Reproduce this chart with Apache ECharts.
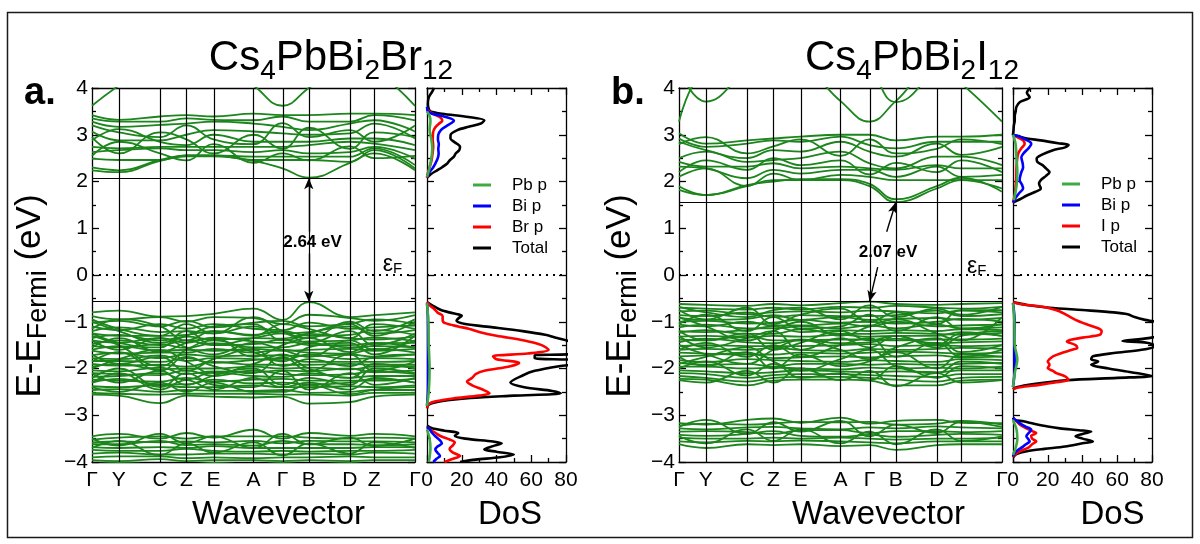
<!DOCTYPE html>
<html><head><meta charset="utf-8">
<script src="https://cdn.jsdelivr.net/npm/echarts@6/dist/echarts.min.js"></script>
<style>html,body{margin:0;padding:0;background:#fff}#c{width:1200px;height:544px}</style>
</head><body><div id="c"></div>
<script>
// ---------- k-path (high-symmetry points) ----------
const kPath = [0, 0.268, 0.68, 0.943, 1.215, 1.615, 1.905, 2.168, 2.578, 2.822, 3.23];
const kLabels = ['Γ','Y','C','Z','E','A','Γ','B','D','Z','Γ'];
const dosLegendA = ['Pb p','Bi p','Br p','Total'];
const dosLegendB = ['Pb p','Bi p','I p','Total'];

// band edges (eV) and gap labels
const cbmA = 2.07, vbmA = -0.57, gapA = '2.64 eV';
const cbmB = 1.555, vbmB = -0.57, gapB = '2.07 eV';

// ---------- Panel a: Cs4PbBi2Br12 bands (values at Γ Y C Z E A Γ B D Z Γ) ----------
const bandsA_up = [
  [3.62, 4.05, 4.6, 4.6, 4.6, 4.05, 3.62, 4.0, 4.6, 4.4, 3.62]
];
const bandsA_cb = [
  [3.42, 3.32, 3.39, 3.42, 3.39, 3.45, 3.42, 3.42, 3.45, 3.45, 3.42],
  [3.35, 3.28, 3.28, 3.35, 3.32, 3.31, 3.39, 3.28, 3.28, 3.42, 3.31],
  [3.28, 3.17, 3.21, 3.24, 3.28, 3.24, 3.17, 3.10, 3.24, 3.31, 3.07],
  [3.07, 2.88, 2.88, 3.00, 3.10, 3.07, 3.03, 3.00, 3.03, 3.24, 2.92],
  [2.88, 3.12, 2.85, 2.78, 3.00, 2.85, 2.85, 2.85, 2.92, 2.92, 2.78],
  [2.74, 2.71, 2.74, 2.74, 2.74, 2.74, 2.74, 2.78, 2.85, 2.81, 2.67],
  [2.63, 2.67, 2.71, 2.67, 2.67, 2.63, 2.67, 2.60, 2.63, 2.74, 2.49],
  [2.49, 2.46, 2.46, 2.56, 2.56, 2.53, 2.53, 2.53, 2.53, 2.71, 2.35],
  [2.30, 2.24, 2.46, 2.56, 2.56, 2.46, 2.46, 2.46, 2.42, 2.67, 2.28],
  [2.24, 2.20, 2.44, 2.54, 2.54, 2.44, 2.28, 2.08, 2.40, 2.60, 2.24],
  [3.20, 3.05, 2.95, 3.20, 2.90, 2.80, 3.25, 2.95, 3.10, 2.85, 3.20],
  [2.95, 2.60, 3.05, 2.90, 2.60, 3.00, 2.70, 3.15, 2.70, 3.05, 2.95],
  [2.55, 2.85, 2.60, 2.45, 2.80, 2.40, 2.60, 2.45, 2.75, 2.50, 2.55]
];
const bandsA_vb = [
  [-0.80,-0.76,-0.89,-0.88,-0.83,-0.72,-0.96,-0.58,-0.90,-0.86,-0.80],
  [-0.88,-0.95,-0.90,-1.00,-0.90,-0.92,-1.05,-0.85,-0.92,-0.98,-0.86],
  [-1.02,-0.98,-1.10,-0.98,-1.12,-1.02,-0.98,-1.10,-1.04,-0.95,-1.05],
  [-1.10,-1.18,-1.05,-1.15,-1.05,-1.15,-1.18,-1.02,-1.15,-1.12,-1.08],
  [-1.20,-1.12,-1.22,-1.20,-1.25,-1.10,-1.25,-1.22,-1.10,-1.25,-1.18],
  [-1.25,-1.30,-1.30,-1.28,-1.20,-1.28,-1.20,-1.30,-1.28,-1.18,-1.28],
  [-1.35,-1.28,-1.40,-1.32,-1.38,-1.35,-1.36,-1.26,-1.35,-1.38,-1.32],
  [-1.40,-1.45,-1.35,-1.45,-1.34,-1.42,-1.45,-1.42,-1.40,-1.34,-1.42],
  [-1.48,-1.40,-1.50,-1.40,-1.50,-1.48,-1.38,-1.50,-1.50,-1.46,-1.45],
  [-1.52,-1.55,-1.48,-1.56,-1.46,-1.55,-1.55,-1.46,-1.55,-1.52,-1.55],
  [-1.60,-1.52,-1.62,-1.60,-1.62,-1.58,-1.62,-1.60,-1.58,-1.62,-1.58],
  [-1.62,-1.68,-1.66,-1.66,-1.58,-1.66,-1.60,-1.66,-1.68,-1.58,-1.66],
  [-1.72,-1.66,-1.78,-1.70,-1.74,-1.72,-1.72,-1.74,-1.70,-1.75,-1.70],
  [-1.78,-1.80,-1.72,-1.84,-1.78,-1.80,-1.82,-1.70,-1.80,-1.78,-1.80],
  [-1.84,-1.84,-1.86,-1.78,-1.88,-1.82,-1.78,-1.86,-1.86,-1.86,-1.84],
  [-1.90,-1.94,-1.92,-1.96,-1.86,-1.92,-1.92,-1.92,-1.90,-1.92,-1.92],
  [-1.96,-1.90,-2.02,-2.00,-2.00,-1.96,-2.00,-1.98,-2.02,-1.96,-1.96],
  [-2.04,-2.06,-1.98,-2.12,-2.06,-2.08,-2.04,-2.06,-2.00,-2.08,-2.04],
  [-2.10,-2.12,-2.14,-2.04,-2.16,-2.04,-2.12,-2.14,-2.12,-2.06,-2.12],
  [-2.18,-2.16,-2.10,-2.24,-2.08,-2.16,-2.18,-2.10,-2.20,-2.16,-2.16],
  [-2.24,-2.26,-2.28,-2.20,-2.28,-2.24,-2.22,-2.26,-2.26,-2.26,-2.22],
  [-2.30,-2.22,-2.34,-2.34,-2.24,-2.32,-2.30,-2.34,-2.30,-2.22,-2.30],
  [-2.38,-2.40,-2.36,-2.40,-2.40,-2.36,-2.40,-2.40,-2.38,-2.40,-2.36],
  [-2.46,-2.44,-2.50,-2.46,-2.48,-2.48,-2.46,-2.52,-2.50,-2.46,-2.46],
  [-2.52,-2.54,-2.56,-2.54,-2.54,-2.54,-2.56,-2.56,-2.58,-2.52,-2.52],
  [-2.56,-2.58,-2.74,-2.58,-2.60,-2.62,-2.60,-2.75,-2.72,-2.60,-2.56],
  [-1.00,-1.20,-1.45,-1.30,-1.10,-1.05,-1.40,-1.25,-1.05,-1.30,-1.00],
  [-2.00,-1.80,-1.60,-1.85,-2.10,-1.90,-1.70,-2.00,-2.20,-1.90,-2.00],
  [-1.30,-1.50,-1.95,-1.60,-1.40,-1.65,-1.85,-1.55,-1.45,-1.70,-1.30],
  [-2.30,-2.10,-2.45,-2.25,-2.45,-2.20,-2.40,-2.30,-2.45,-2.20,-2.30],
  [-0.95,-1.15,-1.30,-1.05,-1.25,-0.90,-1.20,-1.35,-1.00,-1.20,-0.95],
  [-1.15,-0.95,-1.10,-1.40,-1.20,-1.30,-1.05,-1.15,-1.35,-1.05,-1.15],
  [-1.40,-1.60,-1.35,-1.55,-1.70,-1.45,-1.60,-1.75,-1.40,-1.60,-1.40],
  [-1.55,-1.35,-1.65,-1.45,-1.35,-1.75,-1.50,-1.35,-1.65,-1.45,-1.55],
  [-1.70,-1.90,-1.75,-2.05,-1.80,-1.60,-1.95,-1.80,-1.95,-1.75,-1.70],
  [-1.85,-1.65,-2.05,-1.75,-1.95,-2.10,-1.75,-2.05,-1.70,-2.05,-1.85],
  [-2.10,-2.30,-2.05,-2.35,-2.15,-2.00,-2.35,-2.20,-2.35,-2.00,-2.10],
  [-2.20,-2.00,-2.40,-2.10,-2.35,-2.40,-2.05,-2.45,-2.10,-2.35,-2.20],
  [-2.40,-2.50,-2.30,-2.50,-2.30,-2.50,-2.50,-2.35,-2.55,-2.45,-2.40],
  [-1.25,-1.45,-1.55,-1.20,-1.50,-1.35,-1.25,-1.45,-1.20,-1.50,-1.25]
];
const bandsA_low = [
  [-3.45,-3.40,-3.50,-3.38,-3.48,-3.31,-3.50,-3.38,-3.44,-3.40,-3.45],
  [-3.52,-3.48,-3.45,-3.50,-3.45,-3.45,-3.45,-3.48,-3.50,-3.48,-3.50],
  [-3.58,-3.56,-3.58,-3.56,-3.58,-3.55,-3.60,-3.55,-3.56,-3.56,-3.58],
  [-3.62,-3.62,-3.55,-3.64,-3.62,-3.65,-3.55,-3.62,-3.62,-3.64,-3.62],
  [-3.68,-3.70,-3.68,-3.70,-3.66,-3.70,-3.70,-3.70,-3.70,-3.68,-3.68],
  [-3.74,-3.76,-3.76,-3.72,-3.76,-3.78,-3.76,-3.78,-3.76,-3.76,-3.74],
  [-3.82,-3.80,-3.84,-3.84,-3.82,-3.82,-3.84,-3.82,-3.84,-3.80,-3.82],
  [-3.90,-3.88,-3.88,-3.92,-3.90,-3.92,-3.90,-3.90,-3.88,-3.90,-3.90],
  [-3.96,-3.98,-3.94,-3.98,-3.96,-3.96,-3.98,-3.96,-3.98,-3.96,-3.96],
  [-4.05,-4.02,-4.05,-4.05,-4.02,-4.05,-4.02,-4.05,-4.02,-4.05,-4.05],
  [-3.50,-3.65,-3.40,-3.60,-3.45,-3.70,-3.40,-3.62,-3.48,-3.66,-3.50],
  [-3.70,-3.55,-3.85,-3.60,-3.80,-3.58,-3.86,-3.60,-3.82,-3.58,-3.70]
];

// ---------- Panel b: Cs4PbBi2I12 bands ----------
const bandsB_up = [
  [3.28, 4.4, 4.6, 4.6, 4.5, 3.72, 3.28, 3.72, 4.5, 4.1, 3.28],
  [4.4, 3.71, 4.4, 4.8, 4.8, 4.8, 4.8, 4.8, 4.8, 4.8, 4.8],
  [4.8, 4.8, 4.8, 4.8, 4.8, 4.8, 4.4, 3.7, 4.4, 4.8, 4.8]
];
const bandsB_cb = [
  [3.03, 2.81, 2.88, 2.92, 2.96, 3.00, 3.00, 2.88, 2.96, 2.96, 3.00],
  [2.92, 2.74, 2.81, 2.88, 2.85, 2.96, 2.78, 2.71, 2.85, 2.85, 2.85],
  [2.85, 2.67, 2.50, 2.67, 2.64, 2.85, 2.64, 2.53, 2.81, 2.57, 2.74],
  [2.50, 2.64, 2.42, 2.46, 2.50, 2.64, 2.39, 2.28, 2.53, 2.53, 2.35],
  [2.42, 2.32, 2.32, 2.39, 2.28, 2.32, 2.28, 2.25, 2.35, 2.28, 2.28],
  [2.32, 2.28, 2.07, 2.25, 2.17, 2.25, 2.25, 2.10, 2.32, 2.10, 2.14],
  [2.10, 2.28, 1.90, 2.17, 2.03, 2.14, 2.10, 2.03, 2.03, 2.03, 2.03],
  [1.90, 1.71, 1.90, 2.03, 2.03, 2.03, 1.90, 1.56, 1.85, 2.03, 1.85],
  [1.82, 1.71, 1.92, 2.00, 2.05, 2.05, 1.95, 1.62, 1.90, 2.08, 1.78],
  [2.80, 2.95, 2.60, 2.75, 2.90, 2.55, 2.90, 2.60, 2.70, 2.90, 2.80],
  [2.20, 2.45, 2.25, 2.50, 2.35, 2.45, 2.15, 2.40, 2.20, 2.45, 2.20]
];
const bandsB_vb = [
  [-0.62,-0.64,-0.66,-0.62,-0.65,-0.60,-0.57,-0.62,-0.64,-0.62,-0.60],
  [-0.70,-0.72,-0.74,-0.70,-0.74,-0.68,-0.70,-0.66,-0.70,-0.72,-0.68],
  [-0.78,-0.76,-0.84,-0.80,-0.78,-0.80,-0.76,-0.78,-0.82,-0.76,-0.80],
  [-0.86,-0.88,-0.80,-0.90,-0.86,-0.88,-0.88,-0.86,-0.76,-0.88,-0.84],
  [-0.92,-0.96,-0.94,-0.86,-0.96,-0.90,-0.96,-0.94,-0.92,-0.96,-0.92],
  [-1.00,-0.98,-1.04,-1.02,-0.96,-1.02,-1.00,-1.04,-1.00,-0.94,-1.00],
  [-1.06,-1.10,-1.00,-1.08,-1.08,-1.04,-1.10,-1.00,-1.10,-1.08,-1.06],
  [-1.12,-1.06,-1.14,-1.14,-1.10,-1.14,-1.08,-1.14,-1.06,-1.14,-1.12],
  [-1.20,-1.22,-1.18,-1.10,-1.22,-1.18,-1.20,-1.18,-1.20,-1.16,-1.18],
  [-1.24,-1.18,-1.26,-1.26,-1.16,-1.26,-1.26,-1.24,-1.26,-1.28,-1.24],
  [-1.32,-1.30,-1.34,-1.30,-1.32,-1.28,-1.32,-1.30,-1.30,-1.22,-1.30],
  [-1.38,-1.40,-1.30,-1.40,-1.40,-1.38,-1.38,-1.40,-1.38,-1.38,-1.36],
  [-1.44,-1.36,-1.44,-1.46,-1.38,-1.46,-1.44,-1.36,-1.46,-1.44,-1.42],
  [-1.52,-1.50,-1.52,-1.52,-1.52,-1.50,-1.48,-1.52,-1.50,-1.52,-1.50],
  [-1.60,-1.58,-1.60,-1.56,-1.60,-1.62,-1.58,-1.60,-1.58,-1.56,-1.58],
  [-1.66,-1.68,-1.70,-1.70,-1.66,-1.68,-1.66,-1.64,-1.66,-1.68,-1.66],
  [-1.74,-1.72,-1.66,-1.78,-1.76,-1.74,-1.76,-1.74,-1.72,-1.76,-1.74],
  [-1.82,-1.86,-1.80,-1.82,-1.84,-1.86,-1.82,-1.84,-1.86,-1.80,-1.82],
  [-1.88,-1.92,-1.90,-1.96,-1.90,-1.90,-1.92,-1.90,-1.92,-1.90,-1.88],
  [-1.96,-1.96,-2.00,-1.98,-2.00,-2.02,-1.98,-2.00,-1.98,-2.00,-1.96],
  [-2.04,-2.06,-2.10,-2.08,-2.04,-2.06,-2.08,-2.06,-2.08,-2.04,-2.04],
  [-2.10,-2.12,-2.20,-2.14,-2.12,-2.12,-2.14,-2.16,-2.18,-2.12,-2.12],
  [-2.16,-2.20,-2.28,-2.20,-2.18,-2.18,-2.20,-2.24,-2.28,-2.20,-2.18],
  [-2.22,-2.24,-2.36,-2.26,-2.24,-2.24,-2.26,-2.36,-2.36,-2.26,-2.24],
  [-0.90,-1.10,-1.40,-1.20,-1.00,-1.30,-1.10,-0.95,-1.25,-1.40,-0.90],
  [-1.50,-1.70,-1.90,-1.60,-1.40,-1.60,-1.80,-1.55,-1.35,-1.65,-1.50],
  [-1.90,-1.75,-1.55,-1.85,-2.05,-1.80,-1.60,-1.95,-2.10,-1.85,-1.90],
  [-1.20,-1.40,-1.25,-1.60,-1.45,-1.20,-1.40,-1.30,-1.55,-1.30,-1.20],
  [-0.75,-0.95,-0.70,-1.05,-0.85,-0.72,-1.00,-0.80,-1.05,-0.75,-0.75],
  [-1.05,-0.85,-1.20,-0.90,-1.15,-1.10,-0.85,-1.20,-0.90,-1.15,-1.05],
  [-1.30,-1.55,-1.35,-1.20,-1.60,-1.35,-1.55,-1.30,-1.50,-1.25,-1.30],
  [-1.60,-1.45,-1.75,-1.50,-1.75,-1.50,-1.35,-1.75,-1.45,-1.75,-1.60],
  [-1.75,-1.95,-1.65,-2.00,-1.70,-1.95,-1.85,-1.65,-2.00,-1.70,-1.75],
  [-2.00,-1.85,-2.15,-1.90,-2.20,-2.10,-2.25,-1.95,-2.20,-1.95,-2.00],
  [-2.25,-2.30,-2.05,-2.30,-2.00,-2.25,-2.05,-2.38,-2.10,-2.30,-2.25],
  [-0.68,-0.80,-0.90,-0.75,-0.70,-0.95,-0.65,-0.90,-0.72,-0.85,-0.68]
];
const bandsB_low = [
  [-3.17,-3.20,-3.10,-3.07,-3.16,-3.05,-3.18,-3.12,-3.10,-3.16,-3.17],
  [-3.22,-3.18,-3.20,-3.18,-3.14,-3.15,-3.14,-3.20,-3.18,-3.12,-3.20],
  [-3.28,-3.30,-3.26,-3.25,-3.28,-3.30,-3.26,-3.28,-3.24,-3.26,-3.28],
  [-3.35,-3.34,-3.36,-3.40,-3.32,-3.32,-3.38,-3.34,-3.34,-3.36,-3.34],
  [-3.42,-3.44,-3.40,-3.34,-3.44,-3.46,-3.42,-3.46,-3.42,-3.40,-3.42],
  [-3.48,-3.50,-3.50,-3.48,-3.50,-3.48,-3.50,-3.52,-3.50,-3.50,-3.48],
  [-3.56,-3.58,-3.55,-3.56,-3.54,-3.56,-3.58,-3.60,-3.56,-3.56,-3.56],
  [-3.62,-3.70,-3.62,-3.64,-3.62,-3.66,-3.64,-3.74,-3.64,-3.62,-3.62],
  [-3.25,-3.10,-3.40,-3.15,-3.35,-3.12,-3.45,-3.20,-3.38,-3.14,-3.25],
  [-3.45,-3.60,-3.30,-3.55,-3.30,-3.60,-3.35,-3.62,-3.30,-3.55,-3.45]
];

// ---------- DoS, [energy (eV), DoS] pairs; null = gap ----------
const dosA_total = [
  [4.0,4],[3.92,3],[3.8,1],[3.65,0.5],[3.55,1],[3.5,2],[3.45,8.6],[3.38,24],[3.31,33],[3.24,31],[3.17,24],[3.1,17.5],[3.0,13.6],[2.92,13.5],[2.85,15.5],[2.74,19],[2.67,18.5],[2.6,16.5],[2.53,15.5],[2.45,13],[2.38,11.5],[2.3,8.5],[2.24,5.8],[2.15,2],[2.08,0],
  null,
  [-0.58,0],[-0.65,3],[-0.75,8],[-0.82,15],[-0.87,20],[-0.93,18],[-0.98,17],[-1.05,22],[-1.12,38],[-1.2,55],[-1.28,68],[-1.35,75],[-1.42,82],[-1.55,92],[-1.68,88],[-1.72,62],[-1.78,62],[-1.82,88],[-1.88,90],[-1.95,76],[-2.05,62],[-2.15,55],[-2.3,48],[-2.4,56],[-2.48,72],[-2.53,77],[-2.58,50],[-2.63,25],[-2.7,8],[-2.77,1],[-2.85,0],
  null,
  [-3.22,0],[-3.28,3],[-3.33,10],[-3.38,18],[-3.44,16],[-3.5,22],[-3.56,38],[-3.6,43],[-3.66,38],[-3.73,33],[-3.78,40],[-3.84,50],[-3.9,42],[-3.95,28],[-4.0,19]
];
const dosA_Br = [
  [3.55,0],[3.48,2],[3.42,5],[3.36,8],[3.3,8.8],[3.24,7],[3.15,4.6],[3.05,3.5],[2.9,3.3],[2.75,3.6],[2.6,3.2],[2.45,2.6],[2.3,1.5],[2.15,0.3],[2.08,0],
  null,
  [-0.58,0],[-0.65,1.5],[-0.72,4],[-0.8,6],[-0.88,9],[-0.96,9],[-1.03,10.5],[-1.1,18],[-1.15,24],[-1.22,30],[-1.3,40],[-1.4,56],[-1.5,66],[-1.6,70],[-1.68,58],[-1.74,38],[-1.8,40],[-1.88,53],[-1.95,48],[-2.05,33],[-2.12,28],[-2.2,26],[-2.28,23],[-2.36,26],[-2.45,32],[-2.53,36],[-2.58,30],[-2.64,15],[-2.7,5],[-2.76,1],[-2.85,0],
  null,
  [-3.25,0],[-3.31,2],[-3.38,5],[-3.45,8],[-3.52,13],[-3.58,16],[-3.64,15],[-3.72,13],[-3.8,15],[-3.87,19],[-3.93,15],[-4.0,10]
];
const dosA_Bi = [
  [3.6,0],[3.5,0.5],[3.45,3],[3.4,9],[3.35,13.5],[3.3,15.5],[3.25,14],[3.18,11],[3.1,8],[3.0,6.5],[2.9,6.3],[2.8,6.8],[2.7,6.5],[2.6,6.7],[2.5,6.2],[2.4,5],[2.3,3.5],[2.2,1.5],[2.1,0],
  null,
  [-0.6,0],[-0.9,0.5],[-1.5,0.6],[-2.0,0.6],[-2.5,0.5],[-2.8,0],
  null,
  [-3.25,0],[-3.3,1.5],[-3.38,3],[-3.45,4.8],[-3.52,7],[-3.6,8.6],[-3.67,6],[-3.73,4.8],[-3.8,6],[-3.87,7.5],[-3.93,5.5],[-4.0,3.6]
];
const dosA_Pb = [
  [3.5,0],[3.4,1.5],[3.3,2],[3.1,1.5],[2.9,2.5],[2.7,3],[2.5,2.5],[2.3,1.5],[2.1,0],
  null,
  [-0.6,0],[-1.0,0.8],[-1.5,1],[-2.0,1.5],[-2.5,1],[-2.8,0],
  null,
  [-3.3,0],[-3.5,1.5],[-3.7,2],[-3.9,1.5],[-4.0,1]
];

const dosB_total = [
  [4.0,10],[3.9,8],[3.8,9.6],[3.7,4],[3.6,2],[3.5,1.5],[3.4,1],[3.3,1],[3.2,0.5],[3.1,0.3],[3.0,0],[2.97,3],[2.92,8],[2.88,16],[2.82,26],[2.78,32],[2.73,30],[2.67,23],[2.58,17],[2.49,13.6],[2.42,14],[2.35,17],[2.28,19],[2.2,21],[2.12,19],[2.03,16],[1.95,15],[1.85,16],[1.78,13],[1.7,8],[1.62,4],[1.55,0],
  null,
  [-0.58,0],[-0.64,8],[-0.7,21],[-0.75,40],[-0.8,58],[-0.84,66],[-0.9,70],[-0.96,76],[-1.0,82],[-1.1,90],[-1.25,88],[-1.35,78],[-1.41,63],[-1.45,77],[-1.52,82],[-1.6,74],[-1.67,58],[-1.74,46],[-1.8,45],[-1.85,49],[-1.92,45],[-2.0,55],[-2.08,68],[-2.16,80],[-2.2,60],[-2.25,31],[-2.33,12],[-2.4,2],[-2.45,0],
  null,
  [-3.05,0],[-3.1,1],[-3.13,6],[-3.18,12],[-3.24,20],[-3.28,27],[-3.32,38],[-3.35,45],[-3.4,40],[-3.45,36],[-3.5,40],[-3.56,46],[-3.6,40],[-3.67,30],[-3.72,18],[-3.77,8],[-3.83,2],[-3.9,0]
];
const dosB_I = [
  [3.0,0],[2.95,2.5],[2.88,5.8],[2.8,6.7],[2.72,5],[2.6,3],[2.45,2.3],[2.3,2],[2.1,1.9],[1.9,1.5],[1.7,1],[1.55,0],
  null,
  [-0.58,0],[-0.62,4],[-0.67,15],[-0.72,22],[-0.78,27],[-0.86,31],[-0.96,36],[-1.05,42],[-1.14,49],[-1.2,51],[-1.28,50],[-1.34,40],[-1.42,31],[-1.5,36],[-1.56,37],[-1.6,34],[-1.67,28],[-1.74,23],[-1.8,21],[-1.85,20],[-1.92,21],[-1.99,20],[-2.05,23],[-2.1,25],[-2.17,30],[-2.24,32],[-2.3,24],[-2.35,15],[-2.4,4],[-2.44,0],
  null,
  [-3.08,0],[-3.13,2],[-3.2,4],[-3.28,7.7],[-3.34,11],[-3.38,13.4],[-3.44,10.5],[-3.5,11],[-3.56,13.4],[-3.62,11],[-3.7,8.6],[-3.77,4],[-3.84,1],[-3.9,0]
];
const dosB_Bi = [
  [3.0,0],[2.96,3.8],[2.9,7],[2.84,10],[2.8,10.5],[2.74,9.5],[2.7,8.6],[2.6,6],[2.52,4.8],[2.4,5.5],[2.3,5.8],[2.2,4.8],[2.03,3.8],[1.93,5.2],[1.85,5.8],[1.75,3.5],[1.65,1.5],[1.55,0],
  null,
  [-0.6,0],[-1.0,1],[-1.5,0.8],[-2.0,1],[-2.4,0],
  null,
  [-3.05,0],[-3.1,1.5],[-3.17,3.8],[-3.24,7],[-3.31,10.5],[-3.38,9],[-3.45,7.7],[-3.52,9],[-3.56,9.6],[-3.62,7.5],[-3.67,5.8],[-3.74,3],[-3.8,1],[-3.88,0]
];
const dosB_Pb = [
  [3.0,0],[2.8,1.5],[2.5,2],[2.2,2.5],[1.9,2],[1.6,0.5],
  null,
  [-0.6,0],[-1.0,0.8],[-1.5,1],[-1.8,2.5],[-2.1,1],[-2.4,0],
  null,
  [-3.1,0],[-3.3,2],[-3.5,2.5],[-3.7,1.5],[-3.85,0]
];

// ---------- styling ----------
const FONT = '"Liberation Sans", Arial, Helvetica, sans-serif';
const BAND_COLOR = '#1c851c';
const C_PB = '#3faa45', C_BI = '#0000ff', C_X = '#ff0000', C_TOT = '#000000';
const AX = { color: '#000', width: 1.3 };
const minus = v => (v < 0 ? '\u2212' + (-v) : String(v));

const grids = [
  { left: 92, top: 88, width: 323, height: 374 },
  { left: 427, top: 88, width: 139, height: 374 },
  { left: 679, top: 88, width: 323, height: 374 },
  { left: 1013, top: 88, width: 139, height: 374 }
].map(g => Object.assign({ outerBoundsMode: 'none', containLabel: false }, g));

function bandX(gi, namePad) {
  return [{
    gridIndex: gi, type: 'value', min: 0, max: kPath[kPath.length - 1],
    axisLine: { onZero: false, lineStyle: AX }, axisTick: { show: false }, splitLine: { show: false },
    axisLabel: { customValues: kPath, showMinLabel: true, showMaxLabel: true, margin: 8, fontSize: 21, color: '#000', fontFamily: FONT,
      formatter: v => kLabels[kPath.findIndex(k => Math.abs(k - v) < 1e-6)] || '' },
    name: 'Wavevector', nameLocation: 'middle', nameGap: 36,
    nameTextStyle: { fontSize: 33, color: '#000', fontFamily: FONT, padding: [0, 0, 0, namePad] }
  }, {
    gridIndex: gi, type: 'value', position: 'top', min: 0, max: kPath[kPath.length - 1],
    axisLine: { onZero: false, lineStyle: AX }, axisTick: { show: false }, axisLabel: { show: false }, splitLine: { show: false }
  }];
}
function dosX(gi, namePad) {
  const base = {
    gridIndex: gi, type: 'value', min: 0, max: 80, interval: 20,
    axisLine: { onZero: false, lineStyle: AX }, splitLine: { show: false },
    axisTick: { show: true, inside: true, length: 7, lineStyle: AX },
    minorTick: { show: true, splitNumber: 2, length: 4, lineStyle: AX }
  };
  return [Object.assign({}, base, {
    axisLabel: { margin: 8, fontSize: 21, color: '#000', fontFamily: FONT, showMinLabel: true, showMaxLabel: true },
    name: 'DoS', nameLocation: 'middle', nameGap: 36,
    nameTextStyle: { fontSize: 33, color: '#000', fontFamily: FONT, padding: [0, 0, 0, namePad] }
  }), Object.assign({}, base, { position: 'top', axisLabel: { show: false } })];
}
function eY(gi, labels) {
  const base = {
    gridIndex: gi, type: 'value', min: -4, max: 4, interval: 1,
    axisLine: { onZero: false, lineStyle: AX }, splitLine: { show: false },
    axisTick: { show: true, inside: true, length: 7, lineStyle: AX },
    minorTick: { show: true, splitNumber: 2, length: 4, lineStyle: AX }
  };
  return [Object.assign({}, base, {
    position: 'left',
    axisLabel: labels ? { show: true, margin: 4, fontSize: 21, color: '#000', fontFamily: FONT, formatter: minus, showMinLabel: true, showMaxLabel: true } : { show: false }
  }), Object.assign({}, base, { position: 'right', axisLabel: { show: false } })];
}

// axes: grid g -> xAxis 2g (bottom) / 2g+1 (top), yAxis 2g (left) / 2g+1 (right)
const xAxis = [].concat(bandX(0, 50), dosX(1, 27), bandX(2, 76), dosX(3, 60));
const yAxis = [].concat(eY(0, true), eY(1, false), eY(2, true), eY(3, false));

function bandSeries(list, g) {
  return list.map(b => ({
    type: 'line', xAxisIndex: 2 * g, yAxisIndex: 2 * g, silent: true, symbol: 'none', smooth: 0.45,
    data: kPath.map((k, i) => [k, b[i]]), lineStyle: { color: BAND_COLOR, width: 1.8 }, z: 3
  }));
}
function dosSeries(name, arr, color, g, z) {
  return {
    name, type: 'line', xAxisIndex: 2 * g, yAxisIndex: 2 * g, symbol: 'none', smooth: 0.3, silent: true,
    color, lineStyle: { color, width: 2.6 }, z,
    data: arr.map(p => (p ? [p[1], p[0]] : ['-', '-']))
  };
}
const lineBlack = { color: '#000', width: 1.2, type: 'solid' };
const dotted = { color: '#000', width: 2.2, type: [2, 5] };
function annotBand(g, cbm, vbm, arrows, gapText, gapAt, efAt) {
  return {
    type: 'line', xAxisIndex: 2 * g, yAxisIndex: 2 * g, data: [], silent: true, z: 5,
    markLine: {
      silent: true, symbol: 'none', animation: false, label: { show: false },
      data: kPath.slice(1, -1).map(k => ({ xAxis: k, lineStyle: lineBlack }))
        .concat([{ yAxis: cbm, lineStyle: lineBlack }, { yAxis: vbm, lineStyle: lineBlack }, { yAxis: 0, lineStyle: dotted }])
        .concat(arrows.map(a => [
          { coord: a[0], symbol: 'none', lineStyle: { color: '#000', width: 1.4, type: 'solid' } },
          { coord: a[1], symbol: 'arrow', symbolSize: [7, 11] }
        ]))
    },
    markPoint: {
      silent: true, symbol: 'circle', symbolSize: 1, itemStyle: { color: 'rgba(0,0,0,0)' }, animation: false,
      data: [
        { coord: gapAt, value: gapText, label: { show: true, position: 'inside', formatter: '{c}', fontSize: 17, fontWeight: 'bold', color: '#000', fontFamily: FONT } },
        { coord: efAt, value: 'εF', label: { show: true, position: 'inside', formatter: '{e|ε}{f|F}', color: '#000',
          rich: { e: { fontSize: 23, lineHeight: 23, fontFamily: FONT, color: '#000' }, f: { fontSize: 15, lineHeight: 8, verticalAlign: 'bottom', fontFamily: FONT, color: '#000' } } } }
      ]
    }
  };
}
function annotDos(g) {
  return { type: 'line', xAxisIndex: 2 * g, yAxisIndex: 2 * g, data: [], silent: true, z: 5,
    markLine: { silent: true, symbol: 'none', animation: false, label: { show: false }, data: [{ yAxis: 0, lineStyle: dotted }] } };
}

const series = [].concat(
  bandSeries(bandsA_up, 0), bandSeries(bandsA_cb, 0), bandSeries(bandsA_vb, 0), bandSeries(bandsA_low, 0),
  bandSeries(bandsB_up, 2), bandSeries(bandsB_cb, 2), bandSeries(bandsB_vb, 2), bandSeries(bandsB_low, 2),
  [
    dosSeries('Total', dosA_total, C_TOT, 1, 4), dosSeries('Br p', dosA_Br, C_X, 1, 5), dosSeries('Bi p', dosA_Bi, C_BI, 1, 6), dosSeries('Pb p', dosA_Pb, C_PB, 1, 7),
    dosSeries('Total', dosB_total, C_TOT, 3, 4), dosSeries('I p', dosB_I, C_X, 3, 5), dosSeries('Bi p', dosB_Bi, C_BI, 3, 6), dosSeries('Pb p', dosB_Pb, C_PB, 3, 7),
    annotBand(0, cbmA, vbmA, [[[kPath[7], 0.93], [kPath[7], cbmA]], [[kPath[7], 0.46], [kPath[7], vbmA]]], gapA, [2.205, 0.695], [3.005, 0.214]),
    annotBand(2, cbmB, vbmB, [[[2.077, 0.926], [kPath[7], cbmB]], [[1.987, 0.17], [kPath[6], vbmB]]], gapB, [2.09, 0.49], [2.977, 0.18]),
    annotDos(1), annotDos(3)
  ]
);

const legendBase = {
  orient: 'vertical', icon: 'rect', itemWidth: 18, itemHeight: 3, itemGap: 1, selectedMode: false, padding: 0,
  textStyle: { fontSize: 17, color: '#000', fontFamily: FONT, lineHeight: 20, padding: [0, 0, 0, 16] }
};

function richTitle(parts) { return parts.map(p => (p[1] ? '{s|' + p[0] + '}' : '{m|' + p[0] + '}')).join(''); }
const titleA = [['Cs',0],['4',1],['PbBi',0],['2',1],['Br',0],['12',1]];
const titleB = [['Cs',0],['4',1],['PbBi',0],['2',1],['I',0],['12',1]];
const titleRich = {
  m: { fontSize: 42, lineHeight: 42, verticalAlign: 'top', fontFamily: FONT, fill: '#000' },
  s: { fontSize: 28, lineHeight: 28, verticalAlign: 'top', padding: [20, 0, 0, 0], fontFamily: FONT, fill: '#000' }
};
const yLabel = '{m|E-E}{s|Fermi}{m| (eV)}';
const yRich = {
  m: { fontSize: 35, lineHeight: 35, verticalAlign: 'top', fontFamily: FONT, fill: '#000' },
  s: { fontSize: 27, lineHeight: 27, verticalAlign: 'top', padding: [13, 0, 0, 0], fontFamily: FONT, fill: '#000' }
};
function txt(x, y, text, extra) {
  return Object.assign({ type: 'text', x, y, silent: true, style: Object.assign({ text, fill: '#000', align: 'center', verticalAlign: 'middle', textAlign: 'center', textVerticalAlign: 'middle', font: '20px ' + FONT }, extra.style || {}) }, extra.el || {});
}

const chart = echarts.init(document.getElementById('c'), null, { renderer: 'canvas' });
chart.setOption({
  animation: false,
  backgroundColor: '#fff',
  textStyle: { fontFamily: FONT, color: '#000' },
  grid: grids,
  xAxis, yAxis,
  legend: [
    Object.assign({}, legendBase, { left: 473, top: 175, data: dosLegendA }),
    Object.assign({}, legendBase, { left: 1062, top: 174, data: dosLegendB })
  ],
  series,
  graphic: [
    { type: 'rect', silent: true, shape: { x: 7.5, y: 12.5, width: 1185, height: 525 }, style: { fill: 'none', stroke: '#1a1a1a', lineWidth: 1.5 } },
    txt(331, 58, richTitle(titleA), { style: { rich: titleRich } }),
    txt(912, 58, richTitle(titleB), { style: { rich: titleRich } }),
    txt(24, 94, 'a.', { style: { font: 'bold 38px ' + FONT, align: 'left', textAlign: 'left' } }),
    txt(611, 94, 'b.', { style: { font: 'bold 38px ' + FONT, align: 'left', textAlign: 'left' } }),
    txt(30, 296, yLabel, { style: { rich: yRich }, el: { rotation: Math.PI / 2 } }),
    txt(620, 296, yLabel, { style: { rich: yRich }, el: { rotation: Math.PI / 2 } })
  ]
});
</script>
</body></html>
